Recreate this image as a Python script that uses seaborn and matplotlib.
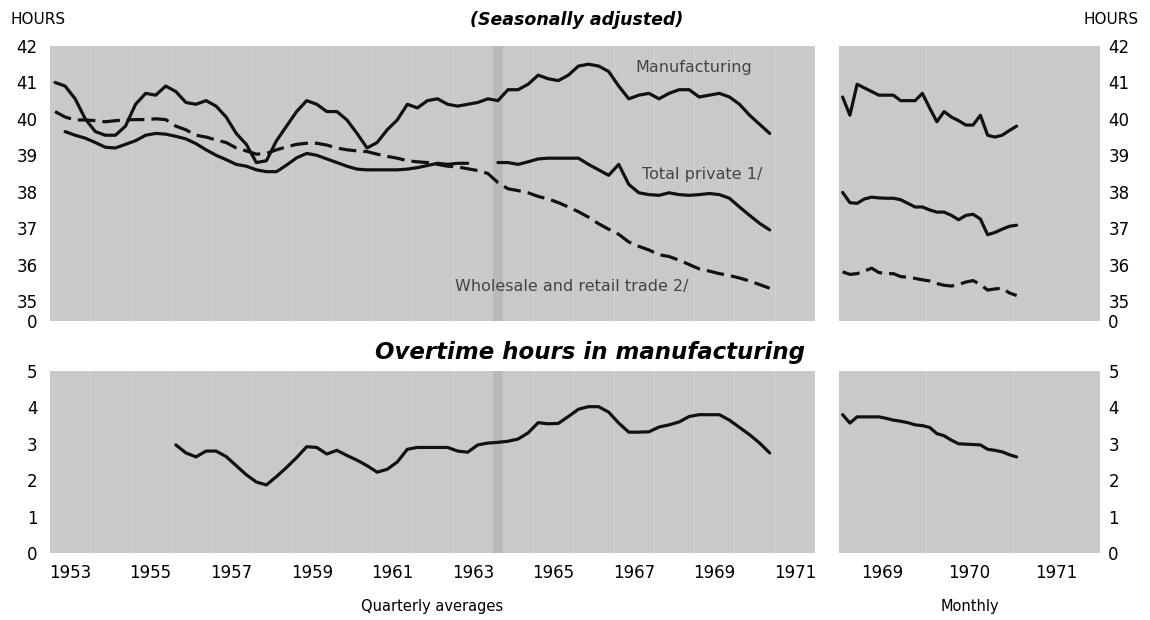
import matplotlib.pyplot as plt
import numpy as np
import pandas as pd
import seaborn as sns

# ---- quarterly averages, 1953Q1 - 1970Q4 ----
quarters = pd.period_range("1953Q1", "1970Q4", freq="Q")

manufacturing_q = [
    41.0, 40.9, 40.55, 40.0, 39.65, 39.55, 39.55, 39.8, 40.4, 40.7,
    40.65, 40.9, 40.75, 40.45, 40.4, 40.5, 40.35, 40.05, 39.6, 39.3,
    38.8, 38.85, 39.4, 39.8, 40.2, 40.5, 40.4, 40.2, 40.2, 39.97,
    39.6, 39.2, 39.35, 39.7, 39.97, 40.4, 40.3, 40.5, 40.55, 40.4,
    40.35, 40.4, 40.45, 40.55, 40.5, 40.8, 40.8, 40.95, 41.2, 41.1,
    41.05, 41.2, 41.45, 41.5, 41.45, 41.3, 40.9, 40.55, 40.65, 40.7,
    40.55, 40.7, 40.8, 40.8, 40.6, 40.65, 40.7, 40.6, 40.4, 40.1,
    39.85, 39.6,
]

# series break in 1964 left as gaps
total_private_q = [
    None, 39.65, 39.55, 39.47, 39.35, 39.22, 39.2, 39.3, 39.4, 39.55,
    39.6, 39.58, 39.52, 39.45, 39.32, 39.15, 39.0, 38.88, 38.75, 38.7,
    38.6, 38.55, 38.55, 38.73, 38.93, 39.05, 39.0, 38.9, 38.8, 38.7,
    38.62, 38.6, 38.6, 38.6, 38.6, 38.62, 38.66, 38.72, 38.78, 38.75,
    38.78, 38.78, None, None, 38.8, 38.8, 38.75, 38.82, 38.9, 38.92,
    38.92, 38.92, 38.92, 38.75, 38.6, 38.45, 38.75, 38.2, 37.97, 37.92,
    37.9, 37.97, 37.92, 37.9, 37.92, 37.95, 37.92, 37.82, 37.58, 37.35,
    37.13, 36.95,
]

wholesale_q = [
    40.2, 40.05, 39.97, 39.97, 39.95, 39.92, 39.95, 39.97, 39.98, 39.98,
    40.0, 39.98, 39.8, 39.7, 39.55, 39.5, 39.42, 39.35, 39.2, 39.12,
    39.03, 39.05, 39.15, 39.23, 39.3, 39.33, 39.33, 39.28, 39.2, 39.15,
    39.12, 39.1, 39.03, 38.97, 38.92, 38.85, 38.82, 38.8, 38.75, 38.7,
    38.68, 38.63, 38.58, 38.5, 38.25, 38.08, 38.03, 37.97, 37.87, 37.8,
    37.7, 37.58, 37.45, 37.3, 37.12, 36.97, 36.83, 36.62, 36.5, 36.4,
    36.27, 36.22, 36.12, 36.0, 35.88, 35.82, 35.75, 35.7, 35.63, 35.55,
    35.45, 35.35,
]

overtime_quarters = pd.period_range("1956Q1", "1970Q4", freq="Q")
overtime_q = [
    2.97, 2.75, 2.64, 2.8, 2.8, 2.65, 2.4, 2.15, 1.95, 1.87,
    2.1, 2.35, 2.62, 2.92, 2.9, 2.72, 2.82, 2.68, 2.55, 2.4,
    2.22, 2.3, 2.5, 2.85, 2.9, 2.9, 2.9, 2.9, 2.8, 2.77,
    2.97, 3.02, 3.04, 3.07, 3.13, 3.3, 3.58, 3.55, 3.56, 3.75,
    3.95, 4.02, 4.02, 3.87, 3.57, 3.32, 3.32, 3.33, 3.46, 3.52,
    3.6, 3.75, 3.8, 3.8, 3.8, 3.65, 3.45, 3.25, 3.02, 2.75,
]

# ---- monthly, Jan 1969 - Jan 1971 ----
months = pd.period_range("1969-01", "1971-01", freq="M")

manufacturing_m = [
    40.6, 40.1, 40.95, 40.85, 40.75, 40.65, 40.65, 40.65, 40.5, 40.5,
    40.5, 40.7, 40.3, 39.92, 40.2, 40.05, 39.95, 39.83, 39.83, 40.1,
    39.55, 39.5, 39.55, 39.68, 39.8,
]
total_private_m = [
    37.98, 37.7, 37.68, 37.8, 37.85, 37.83, 37.82, 37.82, 37.78, 37.68,
    37.58, 37.58, 37.5, 37.44, 37.44, 37.35, 37.23, 37.35, 37.38, 37.25,
    36.82, 36.88, 36.97, 37.05, 37.08,
]
wholesale_m = [
    35.8, 35.73, 35.75, 35.82, 35.9, 35.78, 35.75, 35.75, 35.67, 35.65,
    35.62, 35.58, 35.55, 35.48, 35.43, 35.41, 35.45, 35.52, 35.56, 35.45,
    35.3, 35.33, 35.35, 35.22, 35.15,
]
overtime_m = [
    3.8, 3.57, 3.74, 3.74, 3.74, 3.74, 3.7, 3.65, 3.62, 3.58,
    3.52, 3.5, 3.45, 3.28, 3.22, 3.1, 3.0, 2.99, 2.98, 2.97,
    2.85, 2.82, 2.78, 2.7, 2.64,
]

left_years = [1953, 1955, 1957, 1959, 1961, 1963, 1965, 1967, 1969, 1971]
right_years = [1969, 1970, 1971]
hours_ticks = [35, 36, 37, 38, 39, 40, 41, 42]
overtime_ticks = [0, 1, 2, 3, 4, 5]


def quarter_pos(periods):
    return periods.year + (periods.quarter - 0.5) / 4


def month_pos(periods):
    return periods.year + (periods.month - 0.5) / 12


def to_frame(x, values):
    return pd.DataFrame({"x": np.asarray(x, dtype=float),
                         "v": pd.to_numeric(pd.Series(values), errors="coerce")})


def draw(ax, df, dashed=False):
    # split on gaps so breaks in the series stay visible
    ok = df["v"].notna()
    seg = df["v"].isna().cumsum()
    for _, part in df[ok].groupby(seg[ok]):
        sns.lineplot(data=part, x="x", y="v", ax=ax, color="#111111",
                     linewidth=2.3, estimator=None, sort=False)
        if dashed:
            ax.lines[-1].set_dashes([5.5, 2.2])


sns.set_theme(style="white")
plt.rcParams["font.family"] = ["DejaVu Sans"]
plt.rcParams["text.color"] = "black"

W, H = 1150, 620
fig = plt.figure(figsize=(W / 100, H / 100), dpi=100)


def box(l, t, r, b):
    return [l / W, 1 - b / H, (r - l) / W, (b - t) / H]


ax_tl = fig.add_axes(box(50, 46, 815, 321))
ax_tr = fig.add_axes(box(839, 46, 1100, 321))
ax_bl = fig.add_axes(box(50, 371, 815, 553))
ax_br = fig.add_axes(box(839, 371, 1100, 553))

bg = "#c9c9c9"
for ax in (ax_tl, ax_tr, ax_bl, ax_br):
    ax.set_facecolor(bg)
    for s in ax.spines.values():
        s.set_visible(False)
    ax.tick_params(length=0, labelsize=12, colors="black")

# faint lighter year lines and the darker printing band around 1964
for ax, x0, x1 in ((ax_tl, 1953, 1972), (ax_bl, 1953, 1972),
                   (ax_tr, 1969, 1972), (ax_br, 1969, 1972)):
    for yr in range(x0 + 1, x1):
        ax.axvline(yr, color="#d3d3d3", linewidth=0.7, zorder=0)
for ax in (ax_tl, ax_bl):
    ax.axvspan(1964.0, 1964.25, color="#b9b9b9", zorder=0, linewidth=0)

# quarterly
qx = quarter_pos(quarters)
draw(ax_tl, to_frame(qx, manufacturing_q))
draw(ax_tl, to_frame(qx, total_private_q))
draw(ax_tl, to_frame(qx, wholesale_q), dashed=True)
draw(ax_bl, to_frame(quarter_pos(overtime_quarters), overtime_q))

# monthly
mx = month_pos(months)
draw(ax_tr, to_frame(mx, manufacturing_m))
draw(ax_tr, to_frame(mx, total_private_m))
draw(ax_tr, to_frame(mx, wholesale_m), dashed=True)
draw(ax_br, to_frame(mx, overtime_m))

top_ylim = (34.45, 42)
for ax in (ax_tl, ax_tr):
    ax.set_ylim(*top_ylim)
    ax.set_yticks([top_ylim[0]] + hours_ticks)
    ax.set_yticklabels(["0"] + [str(t) for t in hours_ticks])
for ax in (ax_bl, ax_br):
    ax.set_ylim(0, 5)
    ax.set_yticks(overtime_ticks)
    ax.set_yticklabels([str(t) for t in overtime_ticks])

for ax in (ax_tl, ax_bl):
    ax.set_xlim(1953, 1972)
    ax.tick_params(axis="y", pad=9)
for ax in (ax_tr, ax_br):
    ax.set_xlim(1969, 1972)
    ax.yaxis.tick_right()
    ax.tick_params(axis="y", pad=6)

ax_bl.set_xticks([y + 0.5 for y in left_years])
ax_bl.set_xticklabels([str(y) for y in left_years])
ax_br.set_xticks([y + 0.5 for y in right_years])
ax_br.set_xticklabels([str(y) for y in right_years])
ax_tl.set_xticks([])
ax_tr.set_xticks([])
for ax in (ax_bl, ax_br):
    ax.tick_params(axis="x", pad=8)

for ax in (ax_tl, ax_tr, ax_bl, ax_br):
    ax.set_xlabel("")
    ax.set_ylabel("")

# series labels
lab_kw = dict(fontsize=11.5, color="#444444", ha="center", va="center")
ax_tl.text(1969.0, 41.42, "Manufacturing", **lab_kw)
ax_tl.text(1969.2, 38.47, "Total private 1/", **lab_kw)
ax_tl.text(1965.95, 35.4, "Wholesale and retail trade 2/", **lab_kw)

# headings
fig.text(10 / W, 1 - 20 / H, "HOURS", ha="left", va="center", fontsize=11)
fig.text(1139 / W, 1 - 20 / H, "HOURS", ha="right", va="center", fontsize=11)
fig.text(577 / W, 1 - 20 / H, "(Seasonally adjusted)", ha="center",
         va="center", fontsize=12.5, fontstyle="italic", fontweight="bold")
fig.text(590 / W, 1 - 353 / H, "Overtime hours in manufacturing",
         ha="center", va="center", fontsize=16.5, fontstyle="italic",
         fontweight="bold")
fig.text(432 / W, 1 - 606 / H, "Quarterly averages", ha="center",
         va="center", fontsize=10.5)
fig.text(970 / W, 1 - 606 / H, "Monthly", ha="center", va="center",
         fontsize=10.5)

fig.savefig("out.png", dpi=100, facecolor="white")
plt.close(fig)
